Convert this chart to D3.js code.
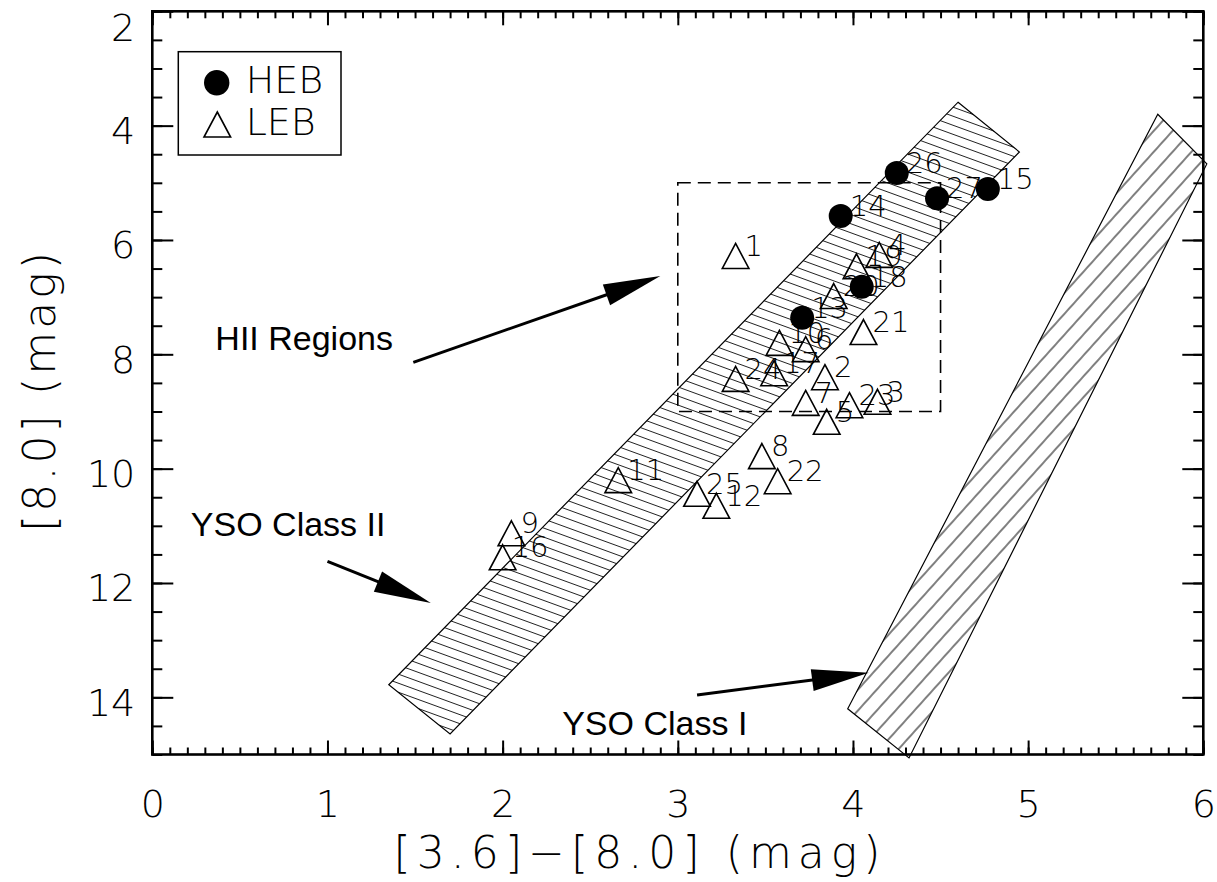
<!DOCTYPE html>
<html>
<head>
<meta charset="utf-8">
<script src="https://cdn.jsdelivr.net/npm/d3@7"></script>
<style>
  body { margin: 0; background: #fff; }
  .hershey { font-family: "DejaVu Sans ExtraLight", "DejaVu Sans", sans-serif; font-weight: 200; }
  .helv { font-family: "Liberation Sans", Arial, sans-serif; }
</style>
</head>
<body>
<svg id="chart" width="1217" height="882"></svg>
<script>
// HEB sources (filled circles): label, [3.6]-[8.0] colour, [8.0] magnitude
var hebLabels = ["26", "27", "15", "14", "18", "13"];
var hebColor  = [4.25, 4.48, 4.77, 3.93, 4.05, 3.71];
var hebMag    = [4.83, 5.27, 5.11, 5.58, 6.82, 7.36];

// LEB sources (open triangles)
var lebLabels = ["1", "2", "3", "4", "5", "6", "7", "8", "9", "10", "11",
                 "12", "16", "17", "19", "20", "21", "22", "23", "24", "25"];
var lebColor  = [3.33, 3.84, 4.14, 4.15, 3.85, 3.73, 3.73, 3.48, 2.05, 3.58, 2.66,
                 3.22, 2.00, 3.55, 4.02, 3.89, 4.06, 3.57, 3.98, 3.33, 3.11];
var lebMag    = [6.28, 8.40, 8.83, 6.26, 9.18, 7.91, 8.85, 9.78, 11.13, 7.80, 10.20,
                 10.65, 11.55, 8.33, 6.46, 6.98, 7.61, 10.22, 8.89, 8.43, 10.44];

// YSO regions (corners of the hatched strips)
var classIIColor = [4.60, 4.95, 1.70, 1.35];
var classIIMag   = [3.59, 4.46, 14.64, 13.78];
var classIColor  = [5.74, 6.02, 4.32, 3.97];
var classIMag    = [3.80, 4.67, 15.06, 14.20];

// HII region box
var hiiColor = [3.0, 4.5];
var hiiMag   = [5.0, 9.0];

// annotation arrows: tail -> tip
var arrowNames = ["HII Regions", "YSO Class II", "YSO Class I"];
var arrowColor = [[1.49, 2.90], [1.00, 1.59], [3.11, 4.09]];
var arrowMag   = [[8.14, 6.63], [11.62, 12.35], [13.96, 13.57]];
var noteColor  = [0.36, 0.22, 2.34];
var noteMag    = [7.93, 11.18, 14.66];

var xTicks = [0, 1, 2, 3, 4, 5, 6];
var yTicks = [2, 4, 6, 8, 10, 12, 14];

var svg = d3.select("#chart");

var x = d3.scaleLinear().domain([0, 6]).range([152.3, 1203.3]);
var y = d3.scaleLinear().domain([2, 15]).range([11.3, 754.5]);

var defs = svg.append("defs");

// line-fill pattern, like IDL polyfill /line_fill
function hatch(id, angle, gap, color, w) {
  var p = defs.append("pattern")
    .attr("id", id)
    .attr("patternUnits", "userSpaceOnUse")
    .attr("width", 60)
    .attr("height", gap)
    .attr("patternTransform", "rotate(" + angle + ")");
  p.append("line")
    .attr("x1", 0).attr("x2", 60)
    .attr("y1", gap / 2).attr("y2", gap / 2)
    .attr("stroke", color)
    .attr("stroke-width", w);
}
hatch("hatch2", 20, 8.5, "#222", 1);
hatch("hatch1", -48, 14, "#555", 1.6);

var line = d3.line();

function strip(cx, cy, fill) {
  var pts = cx.map(function (c, i) { return [x(c), y(cy[i])]; });
  svg.append("path")
    .attr("d", line(pts) + "Z")
    .attr("fill", "url(#" + fill + ")")
    .attr("stroke", "#000")
    .attr("stroke-width", 1.2);
}
strip(classIIColor, classIIMag, "hatch2");
strip(classIColor, classIMag, "hatch1");

// dashed HII box
svg.append("rect")
  .attr("x", x(hiiColor[0]))
  .attr("y", y(hiiMag[0]))
  .attr("width", x(hiiColor[1]) - x(hiiColor[0]))
  .attr("height", y(hiiMag[1]) - y(hiiMag[0]))
  .attr("fill", "none")
  .attr("stroke", "#000")
  .attr("stroke-width", 1.6)
  .attr("stroke-dasharray", "13,7");

// arrows
arrowNames.forEach(function (name, i) {
  var x0 = x(arrowColor[i][0]), y0 = y(arrowMag[i][0]);
  var x1 = x(arrowColor[i][1]), y1 = y(arrowMag[i][1]);
  var len = Math.hypot(x1 - x0, y1 - y0);
  var ux = (x1 - x0) / len, uy = (y1 - y0) / len;
  var hl = 57, hw = 11;
  var bx = x1 - ux * hl, by = y1 - uy * hl;
  svg.append("line")
    .attr("x1", x0).attr("y1", y0)
    .attr("x2", bx + ux * 10).attr("y2", by + uy * 10)
    .attr("stroke", "#000")
    .attr("stroke-width", 3);
  svg.append("path")
    .attr("d", line([[x1, y1], [bx - uy * hw, by + ux * hw], [bx + uy * hw, by - ux * hw]]) + "Z")
    .attr("fill", "#000");
  svg.append("text")
    .attr("class", "helv")
    .attr("x", x(noteColor[i]))
    .attr("y", y(noteMag[i]))
    .attr("font-size", 34)
    .text(name);
});

// points: each marker then its number, in plotting order
var tri = "M0,-12.5L13.3,12.5L-13.3,12.5Z";

var pts = svg.append("g").attr("class", "hershey").attr("font-size", 29);
lebLabels.forEach(function (lab, i) {
  var px = x(lebColor[i]), py = y(lebMag[i]);
  pts.append("path")
    .attr("d", tri)
    .attr("transform", "translate(" + px + "," + py + ")")
    .attr("fill", "none")
    .attr("stroke", "#000")
    .attr("stroke-width", 1.6);
  pts.append("text").attr("x", px + 9).attr("y", py).text(lab);
});
hebLabels.forEach(function (lab, i) {
  var px = x(hebColor[i]), py = y(hebMag[i]);
  pts.append("circle")
    .attr("cx", px).attr("cy", py).attr("r", 12)
    .attr("fill", "#000");
  pts.append("text").attr("x", px + 9).attr("y", py).text(lab);
});

// axes: major and minor ticks on all four sides, pointing inward
var x0 = x.range()[0], x1 = x.range()[1], y0 = y.range()[0], y1 = y.range()[1];
var xMinor = d3.range(61).map(function (d) { return d / 10; });
var yMinor = d3.range(27).map(function (d) { return 2 + d / 2; });

function addAxis(axis, tx, ty) {
  var g = svg.append("g")
    .attr("class", "hershey")
    .attr("transform", "translate(" + tx + "," + ty + ")")
    .call(axis);
  g.select(".domain").remove();
  g.selectAll("line").attr("stroke", "#000").attr("stroke-width", 2);
  return g;
}

var bottom = addAxis(d3.axisBottom(x).tickValues(xTicks).tickSizeInner(-14).tickSizeOuter(0)
  .tickPadding(36).tickFormat(d3.format("d")), 0, y1);
addAxis(d3.axisBottom(x).tickValues(xMinor).tickSize(-7).tickFormat(""), 0, y1);
addAxis(d3.axisTop(x).tickValues(xTicks).tickSize(-14).tickFormat(""), 0, y0);
addAxis(d3.axisTop(x).tickValues(xMinor).tickSize(-7).tickFormat(""), 0, y0);

var left = addAxis(d3.axisLeft(y).tickValues(yTicks).tickSizeInner(-21).tickSizeOuter(0)
  .tickPadding(17).tickFormat(d3.format("d")), x0, 0);
addAxis(d3.axisLeft(y).tickValues(yMinor).tickSize(-10).tickFormat(""), x0, 0);
addAxis(d3.axisRight(y).tickValues(yTicks).tickSize(-21).tickFormat(""), x1, 0);
addAxis(d3.axisRight(y).tickValues(yMinor).tickSize(-10).tickFormat(""), x1, 0);

bottom.selectAll("text").attr("font-size", 38).attr("fill", "#000");
left.selectAll("text").attr("font-size", 38).attr("fill", "#000")
  .attr("dy", function (d) { return d === 2 ? "0.76em" : "0.47em"; });
svg.selectAll(".hershey").attr("font-family", null);

svg.append("rect")
  .attr("x", x0).attr("y", y0)
  .attr("width", x1 - x0).attr("height", y1 - y0)
  .attr("fill", "none")
  .attr("stroke", "#000")
  .attr("stroke-width", 2.6);

// axis titles
svg.append("text")
  .attr("class", "hershey")
  .attr("x", 637)
  .attr("y", 868)
  .attr("text-anchor", "middle")
  .attr("font-size", 44)
  .attr("textLength", 487)
  .attr("lengthAdjust", "spacing")
  .text("[3.6]\u2212[8.0] (mag)");

svg.append("text")
  .attr("class", "hershey")
  .attr("transform", "translate(55,392) rotate(-90)")
  .attr("text-anchor", "middle")
  .attr("font-size", 44)
  .attr("textLength", 280)
  .attr("lengthAdjust", "spacing")
  .text("[8.0] (mag)");

// legend
var legend = svg.append("g").attr("class", "hershey");
legend.append("rect")
  .attr("x", 178.3).attr("y", 51.7)
  .attr("width", 162.7).attr("height", 103.3)
  .attr("fill", "#fff")
  .attr("stroke", "#000")
  .attr("stroke-width", 1.5);
legend.append("circle")
  .attr("cx", 216.7).attr("cy", 82.7).attr("r", 12.7)
  .attr("fill", "#000");
legend.append("path")
  .attr("d", tri)
  .attr("transform", "translate(217.3,124.5)")
  .attr("fill", "none")
  .attr("stroke", "#000")
  .attr("stroke-width", 1.6);
legend.append("text").attr("x", 245.7).attr("y", 93).attr("font-size", 38).text("HEB");
legend.append("text").attr("x", 245.7).attr("y", 135).attr("font-size", 38).text("LEB");
</script>
</body>
</html>
